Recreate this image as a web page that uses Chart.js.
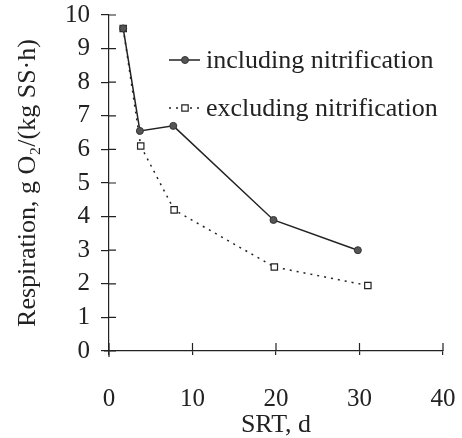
<!DOCTYPE html>
<html>
<head>
    <title>Respiration vs SRT</title>
    <script src="https://cdn.jsdelivr.net/npm/chart.js"></script>
    <style>
        html, body { margin: 0; padding: 0; background: #fff; }
        #wrap { width: 462px; height: 438px; }
    </style>
</head>
<body>
    <div id="wrap"><canvas id="respChart" width="462" height="438"></canvas></div>

    <script>
        // values
        var srtIncluding = [1.7, 3.7, 7.7, 19.7, 29.8];
        var respIncluding = [9.6, 6.55, 6.7, 3.9, 3.0];
        var srtExcluding = [1.7, 3.8, 7.8, 19.8, 31.0];
        var respExcluding = [9.6, 6.1, 4.2, 2.5, 1.95];
        var seriesLabels = ['including nitrification', 'excluding nitrification'];
        var xTitle = 'SRT, d';
        var yTitle = 'Respiration, g O\u2082/(kg SS\u00b7h)';

        function toPoints(xs, ys) {
            return xs.map(function(x, i) { return { x: x, y: ys[i] }; });
        }

        var serif = "'Liberation Serif', 'Times New Roman', serif";
        var ink = '#222';

        // ticks that cross the axis: the inner half is drawn here
        var innerTicks = {
            id: 'innerTicks',
            afterDraw: function(chart) {
                var ctx = chart.ctx, area = chart.chartArea;
                var xs = chart.scales.x, ys = chart.scales.y;
                ctx.save();
                ctx.strokeStyle = ink;
                ctx.lineWidth = 1.2;
                ctx.beginPath();
                ys.ticks.forEach(function(t) {
                    var p = ys.getPixelForValue(t.value);
                    ctx.moveTo(area.left, p);
                    ctx.lineTo(area.left + 7, p);
                });
                xs.ticks.forEach(function(t) {
                    var p = xs.getPixelForValue(t.value);
                    ctx.moveTo(p, area.bottom);
                    ctx.lineTo(p, area.bottom - 8);
                });
                // axis overhang past the origin
                ctx.moveTo(area.left - 5, area.bottom);
                ctx.lineTo(area.left, area.bottom);
                ctx.moveTo(area.left, area.bottom);
                ctx.lineTo(area.left, area.bottom + 6);
                ctx.stroke();
                ctx.restore();
            }
        };

        // legend inside the plot, line sample + marker + text
        var innerLegend = {
            id: 'innerLegend',
            afterDatasetsDraw: function(chart) {
                var ctx = chart.ctx;
                var rows = [60, 108];
                ctx.save();
                chart.data.datasets.forEach(function(ds, i) {
                    var y = rows[i];
                    ctx.strokeStyle = ds.borderColor;
                    ctx.lineWidth = ds.borderWidth;
                    ctx.setLineDash(ds.borderDash || []);
                    ctx.beginPath();
                    ctx.moveTo(169, y);
                    ctx.lineTo(200, y);
                    ctx.stroke();
                    ctx.setLineDash([]);
                    ctx.fillStyle = ds.pointBackgroundColor;
                    ctx.strokeStyle = ds.pointBorderColor;
                    ctx.lineWidth = ds.pointBorderWidth;
                    ctx.beginPath();
                    if (ds.pointStyle === 'rect') {
                        var s = ds.pointRadius * Math.SQRT1_2;
                        ctx.rect(185 - s, y - s, 2 * s, 2 * s);
                    } else {
                        ctx.arc(185, y, ds.pointRadius, 0, Math.PI * 2);
                    }
                    ctx.fill();
                    ctx.stroke();
                    ctx.fillStyle = ink;
                    ctx.font = '26px ' + serif;
                    ctx.textBaseline = 'middle';
                    ctx.textAlign = 'left';
                    ctx.fillText(ds.label, 206, y + 1);
                });
                ctx.restore();
            }
        };

        var ctx = document.getElementById('respChart').getContext('2d');
        var respChart = new Chart(ctx, {
            type: 'line',
            data: {
                datasets: [{
                    label: seriesLabels[0],
                    data: toPoints(srtIncluding, respIncluding),
                    borderColor: '#222',
                    borderWidth: 1.5,
                    pointStyle: 'circle',
                    pointRadius: 3.5,
                    pointBackgroundColor: '#555',
                    pointBorderColor: '#333',
                    pointBorderWidth: 1,
                    tension: 0
                }, {
                    label: seriesLabels[1],
                    data: toPoints(srtExcluding, respExcluding),
                    borderColor: '#222',
                    borderWidth: 1.5,
                    borderDash: [2, 5],
                    pointStyle: 'rect',
                    pointRadius: 4.5,
                    pointBackgroundColor: '#fff',
                    pointBorderColor: '#222',
                    pointBorderWidth: 1.2,
                    tension: 0
                }]
            },
            options: {
                responsive: false,
                animation: false,
                layout: { padding: 0 },
                plugins: {
                    legend: { display: false },
                    tooltip: { enabled: false }
                },
                scales: {
                    x: {
                        type: 'linear',
                        min: 0,
                        max: 40,
                        ticks: { stepSize: 10, padding: 29, color: ink, font: { family: serif, size: 25 } },
                        grid: { drawOnChartArea: false, tickLength: 4, color: ink, lineWidth: 1.2 },
                        border: { color: ink, width: 1.2 },
                        title: { display: true, text: xTitle, color: ink, padding: { top: 0, bottom: -3 }, font: { family: serif, size: 26 } },
                        afterFit: function(scale) {
                            scale.height = 87;
                            scale.paddingLeft = 0;
                            scale.paddingRight = 19;
                        }
                    },
                    y: {
                        min: 0,
                        max: 10,
                        ticks: { stepSize: 1, autoSkip: false, padding: 11, color: ink, font: { family: serif, size: 25 } },
                        grid: { drawOnChartArea: false, tickLength: 8, color: ink, lineWidth: 1.2 },
                        border: { color: ink, width: 1.2 },
                        title: { display: true, text: yTitle, color: ink, padding: { top: 13, bottom: 0 }, font: { family: serif, size: 26 } },
                        afterFit: function(scale) {
                            scale.width = 109;
                            scale.paddingTop = 15;
                            scale.paddingBottom = 0;
                        }
                    }
                }
            },
            plugins: [innerTicks, innerLegend]
        });
    </script>
</body>
</html>
